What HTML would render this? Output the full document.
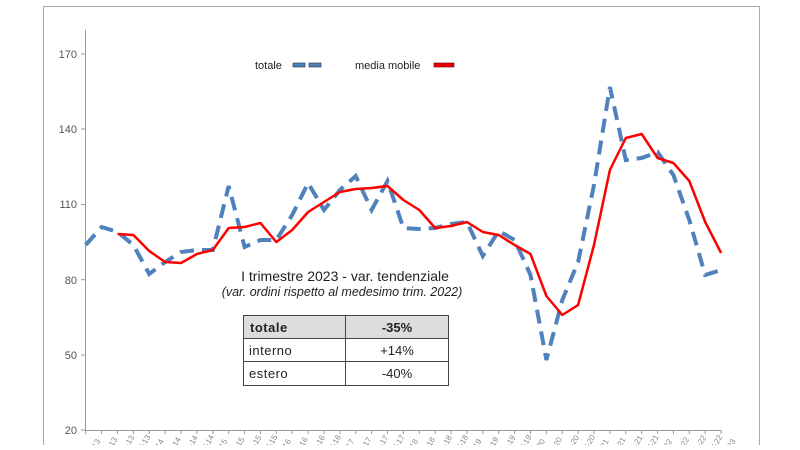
<!DOCTYPE html>
<html><head><meta charset="utf-8"><style>
html,body{margin:0;padding:0;background:#fff;}
body{width:800px;height:445px;overflow:hidden;}
</style></head><body>
<svg width="800" height="445" viewBox="0 0 800 445" xmlns="http://www.w3.org/2000/svg" font-family="Liberation Sans, sans-serif">
<rect x="43.5" y="6.5" width="716" height="450" fill="#fff" stroke="#aaa" stroke-width="1"/>
<g stroke="#999" stroke-width="1">
<line x1="85.5" y1="30" x2="85.5" y2="430.5"/>
<line x1="85" y1="430.5" x2="721" y2="430.5"/>
<line x1="81" y1="54" x2="85" y2="54"/>
<line x1="81" y1="129" x2="85" y2="129"/>
<line x1="81" y1="204.5" x2="85" y2="204.5"/>
<line x1="81" y1="279.7" x2="85" y2="279.7"/>
<line x1="81" y1="355" x2="85" y2="355"/>
<line x1="81" y1="430" x2="85" y2="430"/>
</g>
<g id="ticks" stroke="#999" stroke-width="1"></g>
<g font-size="11" fill="#555" text-anchor="end">
<text x="77" y="58">170</text><text x="77" y="133">140</text><text x="77" y="208">110</text>
<text x="77" y="284">80</text><text x="77" y="359">50</text><text x="77" y="434">20</text>
</g>
<g id="xl" font-size="8" fill="#888"></g>
<text x="255" y="69" font-size="11" fill="#222">totale</text>
<rect x="293" y="63" width="12" height="4" fill="#4f81bd" stroke="#234" stroke-width="0.6"/>
<rect x="309" y="63" width="12" height="4" fill="#4f81bd" stroke="#234" stroke-width="0.6"/>
<text x="355" y="69" font-size="11" fill="#222">media mobile</text>
<rect x="434" y="63" width="20" height="4" fill="#e00" stroke="#600" stroke-width="0.6"/>
<polyline id="blue" fill="none" stroke="#4f81bd" stroke-width="4" stroke-dasharray="14,8"/>
<polyline id="red" fill="none" stroke="#f00" stroke-width="2.5" stroke-linejoin="round"/>
<text x="345" y="281" font-size="14" fill="#222" text-anchor="middle">I trimestre 2023 - var. tendenziale</text>
<text x="342" y="296" font-size="12.5" fill="#222" text-anchor="middle" font-style="italic">(var. ordini rispetto al medesimo trim. 2022)</text>
<rect x="243" y="315" width="102" height="23" fill="#ddd"/>
<rect x="345" y="315" width="103" height="23" fill="#ddd"/>
<g stroke="#444" stroke-width="1" fill="none">
<rect x="243.5" y="315.5" width="205" height="70"/>
<line x1="243" y1="338.5" x2="448" y2="338.5"/>
<line x1="243" y1="361.5" x2="448" y2="361.5"/>
<line x1="345.5" y1="315" x2="345.5" y2="385"/>
</g>
<g font-size="13" fill="#222">
<text x="250" y="332" font-weight="bold" letter-spacing="0.5">totale</text>
<text x="397" y="332" font-weight="bold" text-anchor="middle">-35%</text>
<text x="249" y="355" letter-spacing="0.5">interno</text>
<text x="397" y="355" text-anchor="middle">+14%</text>
<text x="249" y="378" letter-spacing="0.5">estero</text>
<text x="397" y="378" text-anchor="middle">-40%</text>
</g>
</svg>
<script>
var b=[245,227,232,245,274,262,252,250,250,186,247,240,240,215,183,210,190,176,210,181,228,229,228,224,222,256,231,240,275,360,300,262,185,87,160,158,152,175,220,275,270];
var r=[null,null,234,235,251,262,263,254,250,228,227,223,242,230,212,202,192,189,188,186,200,210,228,226,222,232,235,245,254,296,315,305,245,170,138,134,158,163,181,222,253];
var X=function(i){return 85.7+15.885*i;};
var bp=[],rp=[],t='',xl='',q=['I','II','III','IV'];
for(var i=0;i<41;i++){var x=X(i);bp.push(x.toFixed(1)+','+b[i]);if(r[i]!==null)rp.push(x.toFixed(1)+','+r[i]);
t+='<line x1="'+x+'" y1="430" x2="'+x+'" y2="434"/>';
xl+='<text transform="translate('+(x+8)+',453) rotate(-60)">'+q[i%4]+'-'+(13+Math.floor(i/4))+'</text>';}
document.getElementById('blue').setAttribute('points',bp.join(' '));
document.getElementById('red').setAttribute('points',rp.join(' '));
document.getElementById('ticks').innerHTML=t;
document.getElementById('xl').innerHTML=xl;
</script>
</body></html>
